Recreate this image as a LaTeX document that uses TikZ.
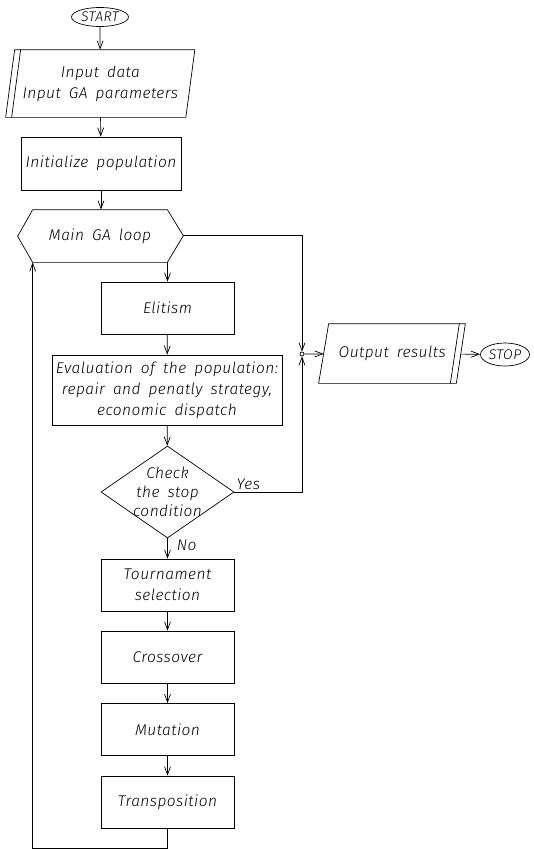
\documentclass[tikz,border=0pt]{standalone}
\usepackage{fontspec}
\setmainfont{Fira Sans Light}[ItalicFont={Fira Sans Light Italic}, WordSpace=1.7, LetterSpace=3]
\usetikzlibrary{shapes.geometric,arrows.meta}

\newcommand\gatxt{\itshape\fontsize{15.5}{21}\selectfont}

\tikzset{
  blok/.style={draw, rectangle, minimum width=133pt, minimum height=52pt, inner sep=2pt, align=center, font=\gatxt},
  term/.style={draw, ellipse, inner sep=0pt, font=\itshape\fontsize{14}{16}\selectfont},
  io/.style={rectangle, inner sep=0pt, align=center, font=\gatxt},
  pijl/.style={-{Straight Barb[length=8pt,width=6pt]}},
}

\begin{document}
\begin{tikzpicture}[x=1pt, y=-1pt, line width=0.7pt]
\useasboundingbox (0,0) rectangle (534,849);

% start, input and the loop head
\node[term, minimum width=57pt, minimum height=19pt] (start) at (100,17) {START};
\node[io, minimum width=179.5pt, minimum height=67pt] (inp) at (100.25,83.5) {Input data\\Input GA parameters};
\draw ([xshift=-4.5pt]inp.south west) -- ([xshift=4.5pt]inp.north west) -- ([xshift=4.5pt]inp.north east) -- ([xshift=-4.5pt]inp.south east) -- cycle;
\draw ([xshift=1.5pt]inp.south west) -- ([xshift=10.5pt]inp.north west);
\node[blok, minimum width=160pt, minimum height=53pt] (init) at (101,163.5) {Initialize population};
\node[minimum width=134pt, minimum height=52pt, inner sep=0pt, font=\gatxt] (loop) at (100,236) {Main GA loop};
\draw (loop.north west) -- (loop.north east) -- ++(16,26) coordinate (loopR) -- (loop.south east) -- (loop.south west) -- ++(-15,-26) coordinate (loopL) -- cycle;

% body of the loop
\node[blok] (elit) at (167.5,308) {Elitism};
\node[blok, minimum width=230pt, minimum height=70pt] (eval) at (167,390) {Evaluation of the population:\\repair and penatly strategy,\\economic dispatch};
\node[draw, diamond, minimum width=133pt, minimum height=92pt, inner xsep=-12pt, inner ysep=-6pt, align=center, font=\itshape\fontsize{15.5}{19}\selectfont] (check) at (167.5,492) {Check\\the stop\\condition};
\node[blok] (tour) at (167.5,585) {Tournament\\selection};
\node[blok] (cross) at (167.5,657) {Crossover};
\node[blok] (mut) at (167.5,729.5) {Mutation};
\node[blok] (trans) at (167.5,802) {Transposition};

% exit branch
\node[draw, circle, fill=white, inner sep=0pt, minimum size=4pt] (junc) at (302,354) {};
\node[io, minimum width=136.5pt, minimum height=59pt] (out) at (392.25,353.5) {Output results};
\draw ([xshift=-5pt]out.south west) -- ([xshift=5pt]out.north west) -- ([xshift=4.5pt]out.north east) -- ([xshift=-4.5pt]out.south east) -- cycle;
\draw ([xshift=-10.5pt]out.south east) -- ([xshift=-1.5pt]out.north east);
\node[term, minimum width=49pt, minimum height=23pt] (stop) at (505,354.5) {STOP};

\draw[pijl] (start) -- (inp);
\draw[pijl] (inp) -- (init);
\draw[pijl] (init) -- (init |- loop.north);
\draw[pijl] (elit.north |- loop.south) -- (elit.north);
\draw[pijl] (elit) -- (eval);
\draw[pijl] (eval) -- (check);
\draw[pijl] (check) -- (tour);
\draw[pijl] (tour) -- (cross);
\draw[pijl] (cross) -- (mut);
\draw[pijl] (mut) -- (trans);
\draw[pijl] (trans.south) -- ++(0,20) -| (loop.south west);

\draw[pijl] (loopR) -| (junc);
\draw[pijl] (check.east) -| (junc);
\node[anchor=south west, inner sep=2pt, font=\gatxt] (yes) at (check.east) {Yes};
\node[anchor=north west, inner sep=1pt, xshift=8pt, font=\gatxt] (no) at (check.south) {No};
\draw[pijl] (junc) -- (out);
\draw[pijl] (out) -- (stop);
\end{tikzpicture}
\end{document}
